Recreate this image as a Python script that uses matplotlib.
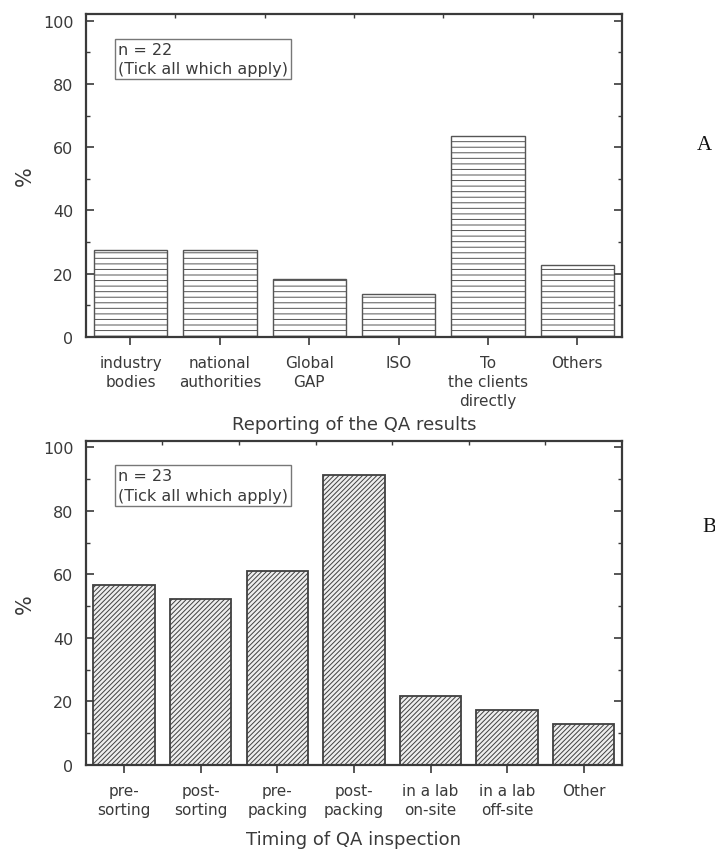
import numpy as np
import matplotlib
matplotlib.use("Agg")
import matplotlib.pyplot as plt
from matplotlib.ticker import MultipleLocator, FixedLocator

# survey answers, % of respondents
report_labels = ["industry\nbodies", "national\nauthorities", "Global\nGAP", "ISO",
                 "To\nthe clients\ndirectly", "Others"]
report_pct = [27.3, 27.3, 18.2, 13.6, 63.6, 22.7]

timing_labels = ["pre-\nsorting", "post-\nsorting", "pre-\npacking", "post-\npacking",
                 "in a lab\non-site", "in a lab\noff-site", "Other"]
timing_pct = [56.5, 52.2, 60.9, 91.3, 21.7, 17.4, 13.0]

plt.rcParams['font.family'] = ['DejaVu Sans']
plt.rcParams['hatch.linewidth'] = 0.7

ink = "#3a3a3a"

fig = plt.figure(figsize=(7.15, 8.53), dpi=100)
axA = fig.add_axes([0.120, 0.604, 0.750, 0.378])
axB = fig.add_axes([0.120, 0.102, 0.750, 0.380])


def style_axes(ax, n):
    ax.set_xlim(0.5, n + 0.5)
    ax.set_ylim(0, 102)
    for s in ax.spines.values():
        s.set_linewidth(1.6)
        s.set_color(ink)
    ax.yaxis.set_major_locator(MultipleLocator(20))
    ax.yaxis.set_minor_locator(MultipleLocator(10))
    ax.xaxis.set_major_locator(FixedLocator(np.arange(1, n + 1)))
    ax.xaxis.set_minor_locator(FixedLocator(np.arange(1.5, n, 1.0)))
    ax.tick_params(axis='y', which='both', direction='in', left=True, right=True,
                   colors=ink, labelsize=11.5, pad=9)
    ax.tick_params(axis='y', which='major', length=6, width=1.2)
    ax.tick_params(axis='y', which='minor', length=3, width=1.0)
    ax.tick_params(axis='x', which='major', direction='out', length=6, width=1.2,
                   colors=ink, labelsize=11, top=False, pad=7)
    ax.tick_params(axis='x', which='minor', direction='in', length=3, width=1.0,
                   colors=ink, bottom=False, top=True)
    ax.set_ylabel("%", fontsize=15, color=ink, labelpad=6)


# A: where QA results are reported
x = np.arange(1, len(report_pct) + 1)
axA.bar(x, report_pct, width=0.82, color="white", edgecolor="#555555",
        linewidth=1.0, hatch="---")
style_axes(axA, len(report_pct))
axA.set_xticklabels(report_labels, color=ink, linespacing=1.35)
axA.set_xlabel("Reporting of the QA results", fontsize=13, color=ink, labelpad=5)
axA.text(0.06, 0.915, "n = 22\n(Tick all which apply)", transform=axA.transAxes,
         fontsize=11.5, color=ink, va='top', ha='left', linespacing=1.35,
         bbox=dict(boxstyle='square,pad=0.2', fc='white', ec='#777777', lw=1.0))

# B: when QA inspection happens
x = np.arange(1, len(timing_pct) + 1)
axB.bar(x, timing_pct, width=0.80, color="#eeeeee", edgecolor="#404040",
        linewidth=1.3, hatch="///////")
style_axes(axB, len(timing_pct))
axB.set_xticklabels(timing_labels, color=ink, linespacing=1.35)
axB.set_xlabel("Timing of QA inspection", fontsize=13, color=ink, labelpad=9)
axB.text(0.06, 0.915, "n = 23\n(Tick all which apply)", transform=axB.transAxes,
         fontsize=11.5, color=ink, va='top', ha='left', linespacing=1.35,
         bbox=dict(boxstyle='square,pad=0.2', fc='white', ec='#777777', lw=1.0))

fig.text(0.975, 0.83, "A", family="Liberation Serif", fontsize=15,
         ha='left', va='center', color="#111111")
fig.text(0.982, 0.382, "B", family="Liberation Serif", fontsize=15,
         ha='left', va='center', color="#111111")

fig.savefig("out.png", dpi=100)
